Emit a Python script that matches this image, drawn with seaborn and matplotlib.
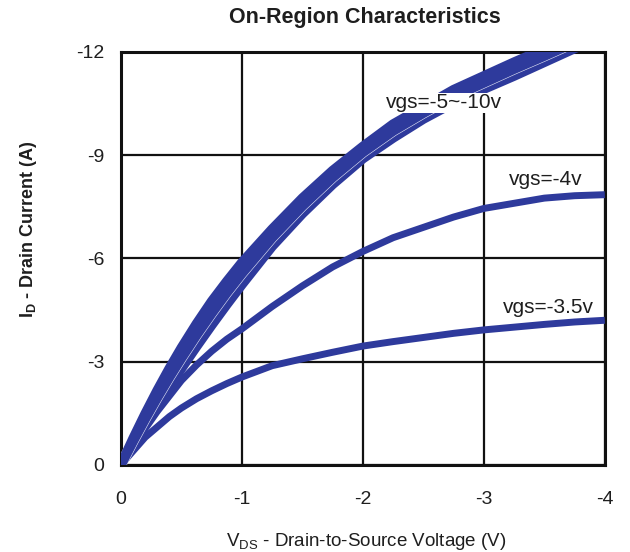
import matplotlib
matplotlib.use("Agg")
import matplotlib.pyplot as plt
import matplotlib.patheffects as pe
import pandas as pd
import seaborn as sns

sns.set_style("white")
plt.rcParams["font.family"] = ["Liberation Sans", "DejaVu Sans"]
plt.rcParams["mathtext.fontset"] = "custom"
plt.rcParams["mathtext.rm"] = "Liberation Sans"
plt.rcParams["mathtext.bf"] = "Liberation Sans:bold"

# drain-to-source voltage (V)
vds = [0, -0.1, -0.2, -0.3, -0.4, -0.5, -0.625, -0.75, -0.875, -1.0, -1.25,
       -1.5, -1.75, -2.0, -2.25, -2.5, -2.75, -3.0, -3.25, -3.5, -3.75, -4.0]

# drain current (A) per gate voltage
id_vgs_5 = [0, -0.6, -1.18, -1.74, -2.28, -2.8, -3.44, -4.06, -4.66, -5.24, -6.35,
            -7.3, -8.15, -8.9, -9.5, -10.05, -10.52, -10.92, -11.3, -11.7, -12.1, -12.45]
id_vgs_7 = [0, -0.68, -1.33, -1.95, -2.54, -3.1, -3.77, -4.4, -5.0, -5.56, -6.6,
            -7.52, -8.35, -9.08, -9.7, -10.22, -10.7, -11.1, -11.5, -11.88, -12.27, -12.62]
id_vgs_10 = [0, -0.76, -1.48, -2.16, -2.8, -3.4, -4.1, -4.75, -5.33, -5.88, -6.85,
             -7.75, -8.55, -9.25, -9.9, -10.4, -10.9, -11.3, -11.7, -12.08, -12.45, -12.8]
id_vgs_4 = [0, -0.52, -1.05, -1.55, -2.0, -2.45, -2.9, -3.3, -3.65, -3.95, -4.6,
            -5.2, -5.75, -6.2, -6.6, -6.9, -7.2, -7.45, -7.6, -7.75, -7.82, -7.85]
id_vgs_35 = [0, -0.4, -0.8, -1.1, -1.4, -1.65, -1.92, -2.15, -2.36, -2.55, -2.88,
             -3.08, -3.27, -3.45, -3.58, -3.7, -3.82, -3.92, -4.0, -4.08, -4.15, -4.2]

# drawing order: the single curves first, then the -5..-10 bundle
curves = {
    "-3.5": id_vgs_35,
    "-4": id_vgs_4,
    "-5": id_vgs_5,
    "-7": id_vgs_7,
    "-10": id_vgs_10,
}

x_ticks = [0, -1, -2, -3, -4]
y_ticks = [0, -3, -6, -9, -12]

df = pd.concat(
    [pd.DataFrame({"vds": vds, "id": vals, "vgs": name}) for name, vals in curves.items()],
    ignore_index=True,
)

blue = "#2e3a9c"
dark = "#1e1e1e"

fig = plt.figure(figsize=(6.3, 5.52), dpi=100)
ax = fig.add_axes([0.192, 0.158, 0.768, 0.748])

for name, grp in df.groupby("vgs", sort=False):
    band = name in ("-5", "-7", "-10")
    effects = None
    if name == "-7":
        # thin light seam seen inside the bundle
        effects = [pe.Stroke(linewidth=7.8, foreground="#e4e7f6"), pe.Normal()]
    sns.lineplot(data=grp, x="vds", y="id", ax=ax, color=blue,
                 lw=7.0 if band else 5.0, sort=False, estimator=None,
                 legend=False, path_effects=effects, zorder=3,
                 solid_capstyle="butt", solid_joinstyle="round")

ax.set_xlim(0, -4)
ax.set_ylim(0, -12)
ax.set_xticks(x_ticks)
ax.set_yticks(y_ticks)
ax.set_xticklabels([str(t) for t in x_ticks])
ax.set_yticklabels([str(t) for t in y_ticks])
ax.tick_params(axis="both", length=0, labelsize=14, colors=dark)
ax.tick_params(axis="x", pad=19)
ax.tick_params(axis="y", pad=12)
ax.grid(True, color="#111111", lw=1.6)
ax.set_axisbelow(True)
for s in ax.spines.values():
    s.set_color("#111111")
    s.set_linewidth(2.2)

ax.set_xlabel(r"V$_\mathregular{DS}$ - Drain-to-Source Voltage (V)", fontsize=13.5,
              color=dark)
ax.xaxis.set_label_coords(0.506, -0.16)
ax.set_ylabel(r"I$_\mathbf{D}$ - Drain Current (A)", fontsize=13,
              color=dark, fontweight="bold")
ax.yaxis.set_label_coords(-0.169, 0.571)
fig.text(0.579, 0.969, "On-Region Characteristics", fontsize=15.5,
         fontweight="bold", color=dark, ha="center", va="center")

box = dict(facecolor="white", edgecolor="none", pad=0.5)
ax.text(-2.67, -10.52, "vgs=-5~-10v", fontsize=15, ha="center", va="center",
        bbox=box, zorder=5, color=dark)
ax.text(-3.51, -8.28, "vgs=-4v", fontsize=15, ha="center", va="center",
        zorder=5, color=dark)
ax.text(-3.53, -4.56, "vgs=-3.5v", fontsize=15, ha="center", va="center",
        zorder=5, color=dark)

fig.savefig("out.png", dpi=100)
plt.close(fig)
